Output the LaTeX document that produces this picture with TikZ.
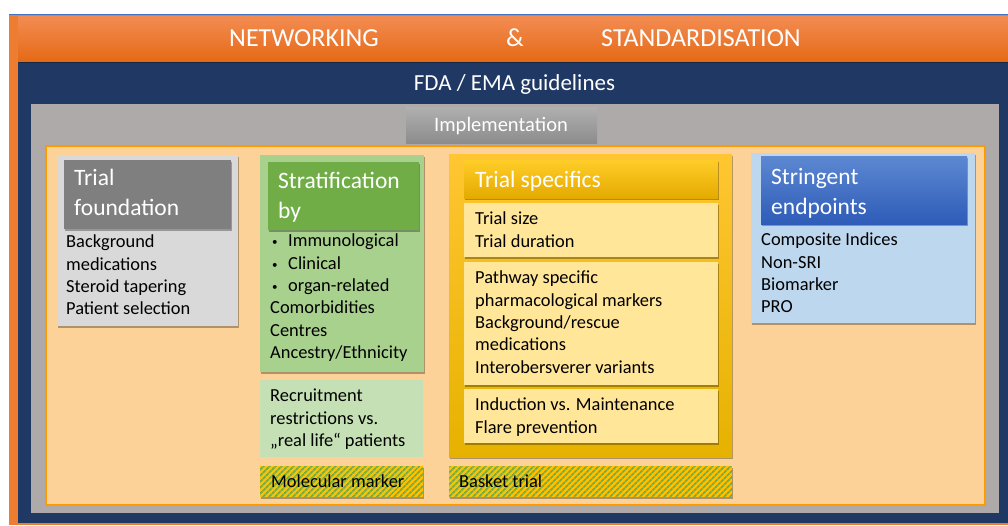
\documentclass[tikz,border=0pt]{standalone}
\usepackage{fontspec}
\setmainfont{Carlito}
\usetikzlibrary{shadows,patterns.meta}
\definecolor{orangeL}{RGB}{237,125,49}
\definecolor{orangeTop}{RGB}{243,140,82}
\definecolor{orangeBot}{RGB}{229,106,22}
\definecolor{blueline}{RGB}{68,114,196}
\definecolor{navy}{RGB}{32,56,100}
\definecolor{grayP}{RGB}{174,170,170}
\definecolor{implTop}{RGB}{176,176,176}
\definecolor{implBot}{RGB}{140,140,140}
\definecolor{peach}{RGB}{252,210,152}
\definecolor{orangeB}{RGB}{255,153,0}
\definecolor{lgray}{RGB}{217,217,217}
\definecolor{dgray}{RGB}{127,127,127}
\definecolor{greenL}{RGB}{169,209,142}
\definecolor{greenD}{RGB}{112,173,71}
\definecolor{greenLL}{RGB}{197,224,180}
\definecolor{goldTop}{RGB}{255,198,50}
\definecolor{goldBot}{RGB}{230,178,0}
\definecolor{hdrTop}{RGB}{255,205,40}
\definecolor{hdrBot}{RGB}{228,170,0}
\definecolor{lyellow}{RGB}{255,230,153}
\definecolor{lblue}{RGB}{189,215,238}
\definecolor{blueTop}{RGB}{92,136,210}
\definecolor{blueBot}{RGB}{46,92,184}
\definecolor{stripeY}{RGB}{255,192,0}
\definecolor{stripeG}{RGB}{112,173,71}
\newcommand{\mybul}{\hspace*{2pt}\makebox[16pt][l]{\raisebox{1pt}{\fontsize{11}{11}\selectfont •}}}
\begin{document}
\begin{tikzpicture}[x=1pt,y=-1pt,
  box/.style={anchor=north west, inner sep=0pt, outer sep=0pt, draw=none},
  shad/.style={drop shadow={shadow xshift=1.2pt, shadow yshift=-1.8pt, opacity=0.3, fill=black}},
  bodytxt/.style={anchor=north west, inner sep=0pt, align=left, font=\fontsize{18.4}{22.4}\selectfont, text=black},
  titletxt/.style={anchor=north west, inner sep=0pt, align=left, font=\fontsize{23.5}{29.5}\selectfont, text=white},
  stripes/.style={preaction={fill=stripeY}, pattern={Lines[angle=45,distance=4pt,line width=1.8pt]}, pattern color=stripeG},
  bartxt/.style={anchor=base, inner sep=0pt, text=white}]
\useasboundingbox (0,0) rectangle (1008,525);
\fill[white] (0,0) rectangle (1008,525);
% outer frames
\node[box, fill=orangeL, minimum width=999pt, minimum height=511pt] (outer) at (9,14) {};
\draw[blueline, line width=1pt] (outer.north west) -- (outer.north east);
\node[box, fill=navy, minimum width=990pt, minimum height=461pt] (navyframe) at (18,62) {};
\node[box, shad, top color=orangeTop, bottom color=orangeBot, minimum width=990pt, minimum height=45pt] (header) at (18,16) {};
\node[bartxt, font=\fontsize{26}{30}\selectfont] (netw) at (304,46.7) {NETWORKING};
\node[bartxt, font=\fontsize{26}{30}\selectfont] (amp) at (515,46.7) {\&};
\node[bartxt, font=\fontsize{26}{30}\selectfont] (stand) at (701,46.7) {STANDARDISATION};
\node[bartxt, font=\fontsize{23}{27}\selectfont] (fda) at (514.5,90.7) {FDA / EMA guidelines};
\node[box, fill=grayP, minimum width=968pt, minimum height=409pt] (graypanel) at (31,104) {};
\node[box, top color=implTop, bottom color=implBot, minimum width=191pt, minimum height=36pt] (impl) at (406,107) {};
\node[bartxt, font=\fontsize{20.5}{24}\selectfont] (impltxt) at (501,131.7) {Implementation};
\node[box, fill=peach, draw=orangeB, line width=2pt, minimum width=939pt, minimum height=359pt] (panel) at (46,146) {};
% Trial foundation
\node[box, shad, fill=lgray, minimum width=181pt, minimum height=171pt] (tf) at (57,155) {};
\node[box, shad, fill=dgray, minimum width=167pt, minimum height=69pt] (tfh) at (64,160) {};
\node[titletxt] (tft) at (74,164.85) {\strut Trial\\foundation};
\node[bodytxt] (tfb) at (66,231.8) {\strut Background\\medications\\Steroid tapering\\Patient selection};
% Stratification
\node[box, shad, fill=greenL, minimum width=164pt, minimum height=217pt] (st) at (260,155) {};
\node[box, shad, fill=greenD, minimum width=151pt, minimum height=68pt] (sth) at (268,162) {};
\node[titletxt] (stt) at (278,167.85) {\strut Stratification\\by};
\node[bodytxt] (stb) at (270,230.8) {\strut\mybul Immunological\\\mybul Clinical\\\mybul organ-related\\Comorbidities\\Centres\\Ancestry/Ethnicity};
\node[box, fill=greenLL, minimum width=163pt, minimum height=77pt] (rec) at (260,380) {};
\node[bodytxt] (recb) at (270,385.8) {\strut Recruitment\\restrictions vs.\\„real life“ patients};
\node[box, shad, stripes, minimum width=163pt, minimum height=31pt] (mol) at (260,466) {};
\node[anchor=base west, inner sep=0pt, font=\fontsize{18.4}{22.4}\selectfont] (molt) at (271,487.5) {Molecular marker};
% Trial specifics
\node[box, shad, top color=goldTop, bottom color=goldBot, minimum width=283pt, minimum height=303pt] (ts) at (449,154) {};
\node[box, shad, top color=hdrTop, bottom color=hdrBot, minimum width=254pt, minimum height=38pt] (tsh) at (464,160) {};
\node[anchor=base west, inner sep=0pt, text=white, font=\fontsize{23.5}{29.5}\selectfont] (tst) at (475,187.5) {Trial specifics};
\node[box, shad, fill=lyellow, minimum width=254pt, minimum height=54pt] (ts1) at (464,203) {};
\node[bodytxt] (ts1t) at (475,208.8) {\strut Trial size\\Trial duration};
\node[box, shad, fill=lyellow, minimum width=254pt, minimum height=123pt] (ts2) at (464,262) {};
\node[bodytxt] (ts2t) at (475,267.8) {\strut Pathway specific\\pharmacological markers\\Background/rescue\\medications\\Interobersverer variants};
\node[box, shad, fill=lyellow, minimum width=254pt, minimum height=54pt] (ts3) at (464,389) {};
\node[bodytxt] (ts3t) at (475,394.8) {\strut Induction vs. Maintenance\\Flare prevention};
\node[box, shad, stripes, minimum width=283pt, minimum height=31pt] (bask) at (449,466) {};
\node[anchor=base west, inner sep=0pt, font=\fontsize{18.4}{22.4}\selectfont] (baskt) at (459,487.5) {Basket trial};
% Stringent endpoints
\node[box, shad, fill=lblue, minimum width=224pt, minimum height=170pt] (se) at (751,153) {};
\node[box, shad, top color=blueTop, bottom color=blueBot, minimum width=206pt, minimum height=68pt] (seh) at (761,156) {};
\node[titletxt] (set) at (771,163.85) {\strut Stringent\\endpoints};
\node[bodytxt] (seb) at (761,229.8) {\strut Composite Indices\\Non-SRI\\Biomarker\\PRO};
\end{tikzpicture}
\end{document}
